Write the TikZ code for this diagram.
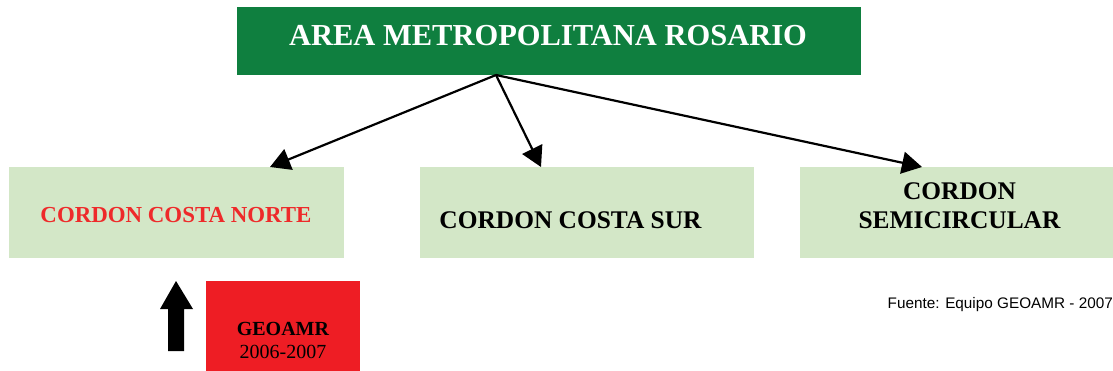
\documentclass[tikz,border=0pt]{standalone}
\usepackage{fontspec}
\setmainfont{Liberation Serif}
\newfontfamily\helv{Liberation Sans}
\usetikzlibrary{arrows.meta}
\definecolor{topgreen}{HTML}{0F7F3F}
\definecolor{lightgreen}{HTML}{D3E7C7}
\definecolor{redbox}{HTML}{EE1D24}
\definecolor{redtext}{HTML}{EE2A2A}
\tikzset{
  box/.style={fill=lightgreen, draw=none, inner sep=0pt},
  conn/.style={line width=2.2pt, -{Triangle[length=20pt,width=22pt]}},
}
\begin{document}
\begin{tikzpicture}[x=1pt,y=-1pt]
\useasboundingbox (0,0) rectangle (1113,371);
% top
\fill[topgreen] (237,7) rectangle (861,75);
\node[font=\fontsize{30.5}{34}\selectfont\bfseries, text=white] (top) at (548,36) {AREA METROPOLITANA ROSARIO};
\coordinate (src) at (496,75);
% boxes
\fill[lightgreen] (9,167) rectangle (344,258);
\fill[lightgreen] (420,167) rectangle (754,258);
\fill[lightgreen] (800,167) rectangle (1113,258);
\node[font=\fontsize{22.9}{26}\selectfont\bfseries, text=redtext] (n) at (176,215) {CORDON COSTA NORTE};
\node[font=\fontsize{25.4}{28}\selectfont\bfseries] (s) at (570.5,220) {CORDON COSTA SUR};
\node[font=\fontsize{25.4}{29}\selectfont\bfseries, align=center] (sc) at (959.5,206) {CORDON\\SEMICIRCULAR};
\coordinate (tn) at (270,167);
\coordinate (ts) at (541,167);
\coordinate (tsc) at (922,167);
\draw[conn] (src) -- (tn);
\draw[conn] (src) -- (ts);
\draw[conn] (src) -- (tsc);
% black up arrow
\fill[black] (168,351) -- (184,351) -- (184,309) -- (193,309) -- (176,281) -- (160,309) -- (168,309) -- cycle;
% red box
\fill[redbox] (206,281) rectangle (360,371);
\node[font=\fontsize{20}{23}\selectfont, align=center] (geo) at (283,340) {\textbf{GEOAMR}\\2006-2007};
\node[font=\helv\fontsize{15.3}{17}\selectfont, anchor=east, inner sep=0pt] (f) at (1113,305) {Fuente: Equipo GEOAMR - 2007};
\end{tikzpicture}
\end{document}
